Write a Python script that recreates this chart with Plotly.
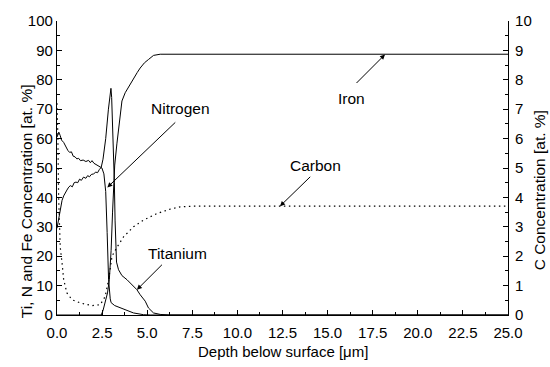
import plotly.graph_objects as go

# ---- data ----
ti_depth = [0.00, 0.10, 0.20, 0.28, 0.37, 0.46, 0.55, 0.65, 0.74, 0.85, 0.95, 1.05, 1.15, 1.25, 1.35,
            1.47, 1.60, 1.70, 1.80, 1.90, 2.03, 2.15, 2.25, 2.35, 2.45, 2.55, 2.70, 2.85, 2.95, 2.99,
            3.03, 3.10, 3.18, 3.22, 3.25, 3.30, 3.41, 3.60, 3.88, 4.15, 4.43, 4.61, 4.89, 5.07, 5.35,
            5.72, 6.20, 25.0]
ti_conc = [29.5, 33.0, 37.0, 39.0, 40.5, 41.8, 42.5, 43.5, 44.0, 43.6, 45.0, 45.2, 45.0, 46.2, 45.8,
           46.9, 46.5, 47.4, 47.0, 47.8, 48.0, 48.6, 48.4, 49.5, 50.2, 53.0, 60.0, 70.0, 76.0, 77.1,
           74.0, 62.0, 45.0, 32.0, 22.0, 18.0, 15.4, 13.4, 12.0, 10.3, 8.6, 6.9, 4.7, 2.4, 0.7,
           0.2, 0.0, 0.0]

n_depth = [0.00, 0.05, 0.10, 0.18, 0.25, 0.37, 0.50, 0.60, 0.70, 0.80, 0.90, 1.00, 1.10, 1.20, 1.30,
           1.45, 1.60, 1.75, 1.85, 1.94, 2.05, 2.20, 2.30, 2.40, 2.49, 2.60, 2.70, 2.78, 2.86, 2.95,
           3.00, 3.20, 3.50, 3.80, 4.24, 4.80, 5.20, 25.0]
n_conc = [60.5, 61.5, 62.2, 61.0, 59.5, 58.7, 57.0, 56.0, 55.3, 55.5, 54.0, 53.8, 53.1, 53.3, 52.5,
          52.7, 52.2, 52.6, 51.8, 52.5, 51.6, 51.0, 50.5, 50.3, 50.0, 48.0, 42.0, 28.0, 12.0, 5.5,
          4.2, 3.2, 2.5, 1.6, 0.7, 0.1, 0.0, 0.0]

fe_depth = [0.00, 2.45, 2.55, 2.67, 2.80, 2.90, 3.00, 3.08, 3.13, 3.20, 3.32, 3.45, 3.60, 3.78, 4.00,
            4.24, 4.45, 4.61, 4.85, 5.07, 5.35, 5.72, 25.0]
fe_conc = [0.0, 0.0, 1.5, 4.0, 7.5, 12.0, 22.0, 35.0, 42.4, 51.0, 58.2, 66.0, 72.8, 75.6, 78.0,
           80.5, 82.5, 84.0, 85.8, 86.9, 88.3, 88.7, 88.7]

c_depth = [0.00, 0.05, 0.09, 0.13, 0.18, 0.28, 0.37, 0.55, 0.83, 1.29, 1.94, 2.40, 2.67, 2.86, 3.05,
           3.32, 3.69, 4.24, 4.80, 5.54, 6.27, 6.83, 7.50, 25.0]
c_conc = [7.2, 6.0, 4.0, 3.0, 2.3, 1.77, 1.2, 0.75, 0.52, 0.41, 0.32, 0.35, 0.63, 1.2, 2.0,
          2.3, 2.66, 3.0, 3.23, 3.45, 3.6, 3.68, 3.7, 3.7]

FONT = "Liberation Sans, Arial, sans-serif"

fig = go.Figure()
line = dict(color="black", width=1.0)
fig.add_trace(go.Scatter(x=ti_depth, y=ti_conc, mode="lines", line=line, name="Titanium"))
fig.add_trace(go.Scatter(x=n_depth, y=n_conc, mode="lines", line=line, name="Nitrogen"))
fig.add_trace(go.Scatter(x=fe_depth, y=fe_conc, mode="lines", line=line, name="Iron"))
fig.add_trace(go.Scatter(x=c_depth, y=c_conc, mode="lines", yaxis="y2",
                         line=dict(color="black", width=1.2, dash="1.5px,3.5px"), name="Carbon"))

tickfont = dict(family=FONT, size=15, color="black")

fig.update_layout(
    width=550, height=367,
    margin=dict(l=57, r=42, t=19, b=52),
    paper_bgcolor="white", plot_bgcolor="white",
    showlegend=False,
    font=dict(family=FONT, size=15, color="black"),
    xaxis=dict(range=[0, 25], dtick=2.5, tick0=0, tickformat=".1f",
               showgrid=False, zeroline=False, showline=True, linecolor="black", linewidth=1.2,
               ticks="inside", ticklen=5, tickcolor="black", tickwidth=1,
               minor=dict(dtick=1.25, ticks="inside", ticklen=3, tickcolor="black"),
               tickfont=tickfont, ticklabelstandoff=4),
    yaxis=dict(range=[0, 100], dtick=10, tick0=0,
               showgrid=False, zeroline=False, showline=True, linecolor="black", linewidth=1.2,
               ticks="inside", ticklen=5, tickcolor="black", tickwidth=1,
               minor=dict(dtick=5, ticks="inside", ticklen=3, tickcolor="black"),
               tickfont=tickfont),
    yaxis2=dict(range=[0, 10], dtick=1, tick0=0, overlaying="y", side="right",
                showgrid=False, zeroline=False, showline=True, linecolor="black", linewidth=1.2,
                ticks="inside", ticklen=5, tickcolor="black", tickwidth=1,
                minor=dict(dtick=0.5, ticks="inside", ticklen=3, tickcolor="black"),
                tickfont=tickfont, ticklabelstandoff=3),
)

# axis titles
fig.add_annotation(text="Depth below surface [\u03bcm]", xref="paper", yref="paper",
                   x=0.5, y=-0.124, yanchor="middle", showarrow=False,
                   font=dict(family=FONT, size=15))
fig.add_annotation(text="Ti, N and Fe Concentration [at. %]", xref="paper", yref="paper",
                   x=-0.092, y=0.387, textangle=-90, showarrow=False,
                   font=dict(family=FONT, size=15.5))
fig.add_annotation(text="C Concentration [at. %]", xref="paper", yref="paper",
                   x=1.092, y=0.424, textangle=-90, showarrow=False,
                   font=dict(family=FONT, size=15.5))

# labels and arrows
labels = [("Nitrogen", 6.83, 70.1, "y"), ("Iron", 16.3, 73.7, "y"),
          ("Carbon", 14.31, 5.08, "y2"), ("Titanium", 6.69, 21.0, "y")]
for t, lx, ly, yr in labels:
    fig.add_annotation(text=t, x=lx, y=ly, xref="x", yref=yr, showarrow=False,
                       font=dict(family=FONT, size=15.5))

arrows = [(2.79, 43.4, 6.64, 66.0, "y"), (18.18, 88.6, 16.52, 78.4, "y"),
          (12.36, 3.70, 14.12, 4.75, "y2"), (4.43, 8.6, 5.90, 17.6, "y")]
for tx, ty, sx, sy, yr in arrows:
    fig.add_annotation(text="", x=tx, y=ty, xref="x", yref=yr, ax=sx, ay=sy,
                       axref="x", ayref=yr, showarrow=True, arrowhead=2, arrowsize=1,
                       arrowwidth=1, arrowcolor="black", standoff=0)

fig.write_html("out.html")
